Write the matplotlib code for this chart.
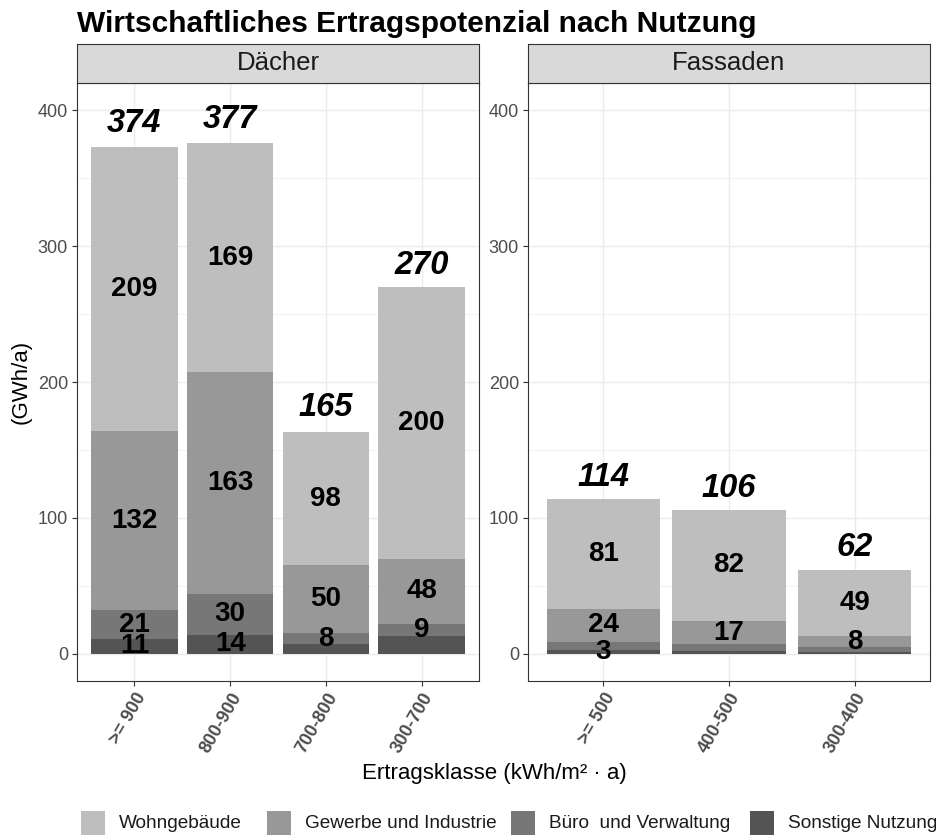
import matplotlib
matplotlib.use("Agg")
import matplotlib.pyplot as plt
from matplotlib.patches import Rectangle
from matplotlib.ticker import MultipleLocator

plt.rcParams["font.family"] = ["Liberation Sans", "DejaVu Sans"]

# Dächer
dach_klassen = [">= 900", "800-900", "700-800", "300-700"]
dach_wohn = [209, 169, 98, 200]
dach_gewerbe = [132, 163, 50, 48]
dach_buero = [21, 30, 8, 9]
dach_sonstige = [11, 14, 7, 13]
dach_gesamt = [374, 377, 165, 270]

# Fassaden
fassade_klassen = [">= 500", "400-500", "300-400"]
fassade_wohn = [81, 82, 49]
fassade_gewerbe = [24, 17, 8]
fassade_buero = [6, 5, 4]
fassade_sonstige = [3, 2, 1]
fassade_gesamt = [114, 106, 62]

nutzungen = ["Wohngebäude", "Gewerbe und Industrie", "Büro  und Verwaltung", "Sonstige Nutzung"]
farben = ["#bebebe", "#989898", "#777777", "#545454"]

# labels dropped by the overlap check (per segment, bottom -> top)
dach_zeigen = [[True, True, True, True], [True, True, True, True],
               [False, True, True, True], [False, True, True, True]]
fassade_zeigen = [[True, False, True, True], [False, False, True, True],
                  [False, False, True, True]]

W, H = 936, 838
fig = plt.figure(figsize=(W / 100, H / 100), dpi=100)


def px_axes(x0, y0, x1, y1):
    return fig.add_axes([x0 / W, 1 - y1 / H, (x1 - x0) / W, (y1 - y0) / H])


def panel(x0, x1, titel, klassen, schichten, gesamt, zeigen):
    ax = px_axes(x0, 83, x1, 681)
    xs = range(len(klassen))
    boden = [0] * len(klassen)
    # bottom to top: Sonstige, Büro, Gewerbe, Wohn
    for werte, farbe in zip(schichten[::-1], farben[::-1]):
        ax.bar(xs, werte, bottom=boden, width=0.9, color=farbe, zorder=2)
        boden = [b + w for b, w in zip(boden, werte)]
    boden = [0] * len(klassen)
    for k, werte in enumerate(schichten[::-1]):
        for i, w in enumerate(werte):
            if zeigen[i][k]:
                ax.text(i, boden[i] + w / 2, str(w), ha="center", va="center",
                        fontsize=20, fontweight="bold", zorder=3)
        boden = [b + w for b, w in zip(boden, werte)]
    for i, g in enumerate(gesamt):
        ax.annotate(str(g), (i, g), xytext=(0, 9.5), textcoords="offset points",
                    ha="center", va="baseline", fontsize=23.5,
                    fontweight="bold", fontstyle="italic", zorder=3)

    ax.set_xlim(-0.6, len(klassen) - 0.4)
    ax.set_ylim(-20, 420)
    ax.yaxis.set_major_locator(MultipleLocator(100))
    ax.yaxis.set_minor_locator(MultipleLocator(50))
    ax.set_xticks(list(xs))
    ax.set_xticklabels(klassen, rotation=60, ha="right", va="top",
                       rotation_mode="anchor", fontweight="bold")
    ax.grid(which="major", color="#ebebeb", lw=1.0, zorder=0)
    ax.grid(which="minor", axis="y", color="#ebebeb", lw=0.5, zorder=0)
    ax.set_axisbelow(True)
    ax.tick_params(axis="both", which="major", length=3.5, width=0.8,
                   color="#333333", labelsize=13, labelcolor="#4d4d4d", pad=3)
    ax.tick_params(axis="y", which="minor", length=0)
    for s in ax.spines.values():
        s.set_color("#333333")
        s.set_linewidth(0.8)

    st = px_axes(x0, 44, x1, 83)
    st.set_facecolor("#d9d9d9")
    st.set_xticks([])
    st.set_yticks([])
    for s in st.spines.values():
        s.set_color("#333333")
        s.set_linewidth(0.8)
    st.text(0.5, 0.5, titel, ha="center", va="center", fontsize=18.5,
            color="#1a1a1a", transform=st.transAxes)
    return ax


panel(77, 479, "Dächer", dach_klassen,
      [dach_wohn, dach_gewerbe, dach_buero, dach_sonstige], dach_gesamt, dach_zeigen)
panel(528, 930, "Fassaden", fassade_klassen,
      [fassade_wohn, fassade_gewerbe, fassade_buero, fassade_sonstige],
      fassade_gesamt, fassade_zeigen)

fig.text(77 / W, 1 - 32 / H, "Wirtschaftliches Ertragspotenzial nach Nutzung",
         ha="left", va="baseline", fontsize=21.5, fontweight="bold")
fig.text(494 / W, 1 - 779 / H, "Ertragsklasse (kWh/m² · a)",
         ha="center", va="baseline", fontsize=16)
fig.text(21 / W, 1 - 382 / H, "(GWh/a)", rotation=90,
         ha="center", va="center", fontsize=16)

# legend row along the bottom, key boxes 24 px
for x_key, name, farbe in zip([81, 267, 511, 750], nutzungen, farben):
    fig.patches.append(Rectangle((x_key / W, 1 - 835 / H), 24 / W, 24 / H,
                                 transform=fig.transFigure, facecolor=farbe,
                                 edgecolor="none"))
    fig.text((x_key + 38) / W, 1 - 823 / H, name, ha="left", va="center",
             fontsize=13.7, color="#1a1a1a")

fig.savefig("out.png", dpi=100)
